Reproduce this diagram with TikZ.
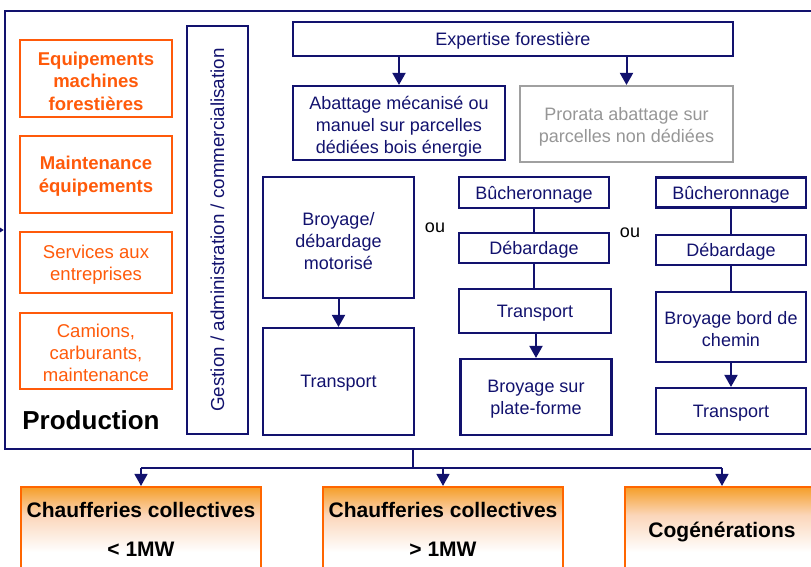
\documentclass[tikz,border=0pt]{standalone}
\usepackage{fontspec}
\setmainfont{Liberation Sans}
\usetikzlibrary{arrows.meta}
\definecolor{navy}{RGB}{18,18,110}
\definecolor{orng}{RGB}{255,90,10}
\definecolor{obox}{RGB}{255,102,0}
\definecolor{otop}{RGB}{245,158,40}
\definecolor{opeach}{RGB}{251,214,186}
\definecolor{greyb}{RGB}{160,160,160}
\definecolor{greyt}{RGB}{150,150,150}
\pgfdeclareverticalshading{bshade}{100bp}{color(0bp)=(white); color(38bp)=(white); color(59bp)=(opeach); color(75bp)=(otop); color(100bp)=(otop)}
\tikzset{
  sz/.style 2 args={minimum width=#1*0.75pt, minimum height=#2*0.75pt},
  txt/.style={font=\fontsize{13.5pt}{16.5pt}\selectfont},
  nbox/.style={draw=navy, line width=1.6pt, inner sep=0pt},
  nboxt/.style={text=navy, align=center, inner sep=0pt, txt},
  gbox/.style={draw=greyb, line width=1.6pt, inner sep=0pt},
  gboxt/.style={text=greyt, align=center, inner sep=0pt, txt},
  obx/.style={draw=orng, line width=1.6pt, inner sep=0pt},
  obxt/.style={text=orng, align=center, inner sep=0pt, font=\fontsize{13.9pt}{16.3pt}\selectfont},
  obxb/.style={obx},
  obxbt/.style={text=orng, align=center, inner sep=0pt, font=\fontsize{13.9pt}{16.8pt}\selectfont\bfseries},
  bbox/.style={draw=obox, line width=1.6pt, inner sep=0pt, shading=bshade},
  btxt/.style={font=\fontsize{15.75pt}{18pt}\selectfont\bfseries, text=black, inner sep=0pt},
  arr/.style={navy, line width=1.5pt, -{Triangle[width=9.75pt,length=9pt]}},
  lnk/.style={navy, line width=1.5pt},
  bl/.style={navy, line width=1.1pt},
}
% style, name, cx, cy, w, h, downshift, text
\newcommand{\tbox}[8]{%
  \node[#1, sz={#5}{#6}] (#2) at (#3,#4) {};
  \node[#1t] (#2t) at ([yshift=-#7]#2.center) {#8};}
\begin{document}
\begin{tikzpicture}[x=0.75pt,y=-0.75pt]
\useasboundingbox (0,0) rectangle (811,567);
\clip (0,0) rectangle (811,567);
% outer production frame
\node[draw=navy, line width=1.9pt, sz={825}{438}, inner sep=0pt] (prod) at (417.5,230) {};
% left orange boxes
\tbox{obxb}{equip}{96}{78.5}{152}{77}{2pt}{Equipements\\machines\\forestières}
\tbox{obxb}{maint}{96}{174.5}{152}{77}{1.3pt}{Maintenance\\équipements}
\tbox{obx}{serv}{96}{262.5}{152}{61}{1.8pt}{Services aux\\entreprises}
\tbox{obx}{cam}{96}{351}{152}{76}{1.4pt}{Camions,\\carburants,\\maintenance}
\node[font=\fontsize{19.5pt}{22pt}\selectfont\bfseries, inner sep=0pt] (prodlbl) at (91,420) {Production};
% vertical management box
\node[nbox, sz={61}{408}] (gest) at (217.5,230) {};
\node[font=\fontsize{14.1pt}{17pt}\selectfont, text=navy, rotate=90, inner sep=0pt] (gesttxt) at (gest.center) {Gestion / administration / commercialisation};
% top row
\tbox{nbox}{exp}{513}{39}{440}{34}{1.5pt}{Expertise forestière}
\tbox{nbox}{abat}{399}{123}{212}{74}{2.9pt}{Abattage mécanisé ou\\manuel sur parcelles\\dédiées bois énergie}
\tbox{gbox}{pror}{626.5}{124}{213}{76}{1.8pt}{Prorata abattage sur\\parcelles non dédiées}
% column 1
\tbox{nbox}{broy1}{338.5}{237.5}{151}{121}{2.8pt}{Broyage/\\débardage\\motorisé}
\tbox{nbox}{tr1}{338.5}{381.5}{151}{107}{1.5pt}{Transport}
% column 2
\tbox{nbox}{buch1}{534}{192.5}{150}{31}{1.5pt}{Bûcheronnage}
\tbox{nbox}{deb1}{534}{248}{150}{30}{1.5pt}{Débardage}
\tbox{nbox}{tr2}{535}{311}{152}{44}{1.5pt}{Transport}
\tbox{nbox}{broy2}{536}{397}{151}{76}{1.3pt}{Broyage sur\\plate-forme}
% column 3
\tbox{nbox}{buch2}{731}{192.5}{150}{30}{1.5pt}{Bûcheronnage}
\tbox{nbox}{deb2}{731}{250}{150}{30}{1.5pt}{Débardage}
\tbox{nbox}{broy3}{731}{327}{150}{70}{1.8pt}{Broyage bord de\\chemin}
\tbox{nbox}{tr3}{731}{411}{150}{46}{1.5pt}{Transport}
% ou
\node[txt, inner sep=0pt] (ou1) at (435,228) {ou};
\node[txt, inner sep=0pt] (ou2) at (630,233) {ou};
% connectors
\draw[arr] (abat.north |- exp.south) -- (abat.north);
\draw[arr] (pror.north |- exp.south) -- (pror.north);
\draw[arr] (broy1) -- (tr1);
\draw[lnk] (buch1) -- (deb1);
\draw[lnk] (deb1) -- (deb1 |- tr2.north);
\draw[arr] (tr2.south -| broy2) -- (broy2.north);
\draw[lnk] (buch2) -- (deb2);
\draw[lnk] (deb2) -- (broy3);
\draw[arr] (broy3) -- (tr3);
% left incoming arrow
\coordinate (lin) at (-2,230);
\draw[navy, line width=1pt, -{Triangle[width=5pt,length=4pt]}] (lin) -- (prod.west |- lin);
% bottom boxes
\node[bbox, sz={240}{88}] (c1) at (141,531) {};
\node[bbox, sz={240}{88}] (c2) at (443,531) {};
\node[bbox, sz={194}{88}] (c3) at (722,531) {};
\node[btxt, anchor=base] (c1a) at (141,517) {Chaufferies collectives};
\node[btxt, anchor=base] (c1b) at (141,556) {< 1MW};
\node[btxt, anchor=base] (c2a) at (443,517) {Chaufferies collectives};
\node[btxt, anchor=base] (c2b) at (443,556) {> 1MW};
\node[btxt, anchor=base] (c3a) at (722,537) {Cogénérations};
% distribution
\coordinate (j) at (413,468);
\draw[bl] (prod.south -| j) -- (j);
\draw[bl] (j -| c1) -- (j -| c3);
\draw[arr, line width=1.1pt] (j -| c1) -- (c1.north);
\draw[arr, line width=1.1pt] (j -| c2) -- (c2.north);
\draw[arr, line width=1.1pt] (j -| c3) -- (c3.north);
\end{tikzpicture}
\end{document}
